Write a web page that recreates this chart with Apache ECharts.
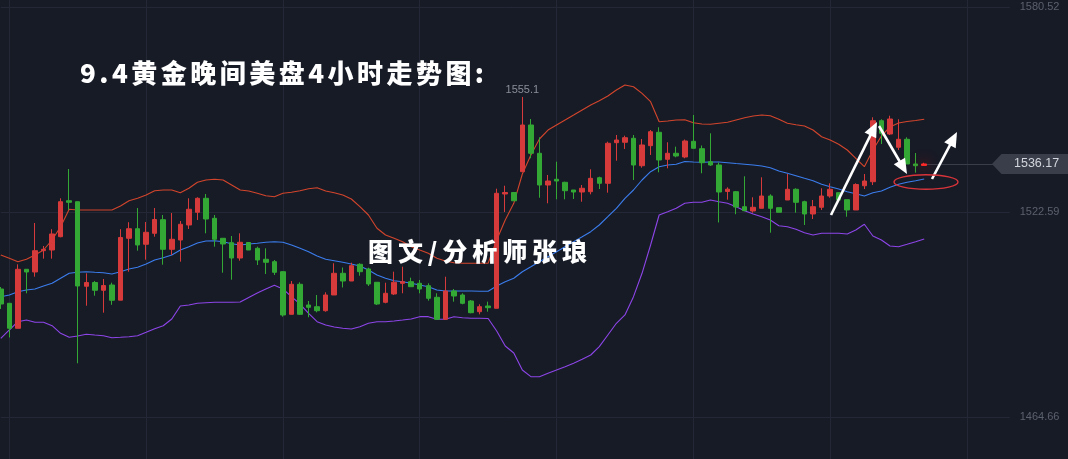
<!DOCTYPE html>
<html><head><meta charset="utf-8">
<script src="https://cdn.jsdelivr.net/npm/echarts@6/dist/echarts.min.js"></script>
<style>html,body{margin:0;padding:0;background:#171b26;overflow:hidden}#c{width:1068px;height:459px}</style>
</head><body><div id="c"></div>
<script>
// ---- data ----
const opens = [1500.83,1496.79,1489.73,1506.40,1505.64,1511.66,1511.85,1515.61,1525.78,1525.50,1501.60,1502.67,1500.47,1501.96,1497.67,1515.16,1517.87,1513.47,1516.57,1520.42,1512.05,1514.68,1518.92,1522.51,1526.46,1520.81,1515.16,1513.92,1509.59,1513.97,1512.33,1509.23,1508.55,1505.72,1493.68,1502.16,1496.31,1495.83,1494.70,1499.14,1505.27,1503.09,1507.81,1506.48,1502.73,1497.07,1499.42,1502.44,1502.90,1502.44,1501.77,1498.49,1492.27,1500.27,1499.14,1497.44,1494.42,1496.03,1495.38,1527.68,1528.10,1533.98,1547.18,1539.18,1530.22,1531.83,1530.98,1528.81,1528.24,1528.33,1532.28,1530.70,1542.18,1542.29,1543.42,1535.67,1541.33,1545.11,1537.48,1539.18,1538.13,1542.57,1540.48,1536.81,1535.87,1528.39,1528.33,1524.09,1522.87,1523.64,1527.11,1523.81,1525.98,1529.01,1525.50,1522.03,1523.92,1527.11,1528.05,1526.07,1523.16,1530.02,1531.15,1548.39,1544.63,1540.88,1543.14,1536.16,1535.75];
const closes = [1496.59,1489.73,1506.40,1505.64,1511.66,1512.05,1516.38,1525.50,1525.33,1501.68,1502.67,1500.47,1501.82,1497.64,1515.39,1517.87,1513.27,1516.85,1520.47,1512.05,1514.88,1519.12,1523.36,1526.46,1520.61,1514.88,1513.55,1509.59,1514.03,1511.85,1509.03,1508.38,1505.55,1493.49,1502.16,1493.68,1495.66,1494.70,1499.14,1505.27,1503.09,1507.42,1505.72,1502.25,1496.59,1499.62,1502.73,1502.90,1501.48,1500.83,1498.20,1492.27,1500.27,1498.85,1496.79,1494.14,1495.83,1495.55,1527.88,1528.10,1525.76,1547.18,1539.18,1530.22,1531.35,1531.35,1528.61,1528.24,1529.29,1532.11,1530.70,1542.01,1542.94,1543.59,1535.87,1541.53,1545.28,1537.29,1539.18,1538.42,1542.66,1540.59,1536.52,1535.87,1528.24,1529.04,1524.00,1522.96,1523.92,1527.11,1523.64,1522.51,1529.01,1525.33,1522.03,1524.09,1527.11,1529.01,1525.98,1523.16,1530.36,1531.35,1548.39,1544.83,1548.87,1543.14,1536.16,1535.67,1536.17];
const lows = [1495.18,1487.13,1489.73,1499.62,1504.31,1509.40,1509.40,1515.44,1523.16,1479.84,1496.11,1498.94,1494.14,1496.37,1497.67,1505.72,1511.66,1509.11,1515.61,1507.70,1510.44,1508.55,1517.79,1520.33,1516.57,1512.79,1505.44,1503.46,1508.83,1511.85,1507.61,1505.07,1504.79,1493.01,1493.68,1493.49,1492.84,1494.25,1494.42,1499.14,1501.26,1503.09,1504.59,1501.68,1496.31,1496.79,1499.14,1499.62,1501.48,1499.62,1497.53,1492.07,1492.07,1497.25,1496.51,1493.97,1493.68,1494.42,1495.38,1522.59,1525.76,1533.98,1537.77,1526.63,1525.05,1526.18,1526.18,1526.27,1525.50,1527.59,1529.09,1528.05,1537.09,1540.40,1531.63,1535.11,1538.70,1533.81,1534.94,1538.05,1537.77,1540.59,1533.53,1535.59,1519.63,1526.07,1521.97,1522.82,1522.39,1523.64,1516.74,1522.51,1525.98,1522.39,1518.92,1520.61,1523.16,1526.63,1525.98,1521.26,1523.16,1529.09,1530.22,1541.81,1544.35,1540.11,1536.16,1533.70,1535.60];
const highs = [1501.40,1496.88,1507.81,1506.48,1519.48,1512.98,1517.73,1526.46,1534.74,1525.50,1505.27,1503.09,1503.66,1502.61,1517.73,1519.71,1523.72,1519.77,1523.72,1521.74,1522.31,1520.05,1526.46,1526.75,1527.68,1521.74,1515.16,1515.81,1516.57,1513.97,1512.79,1512.33,1509.03,1505.92,1503.09,1502.73,1497.44,1499.14,1499.90,1508.10,1506.91,1508.27,1508.10,1506.85,1502.73,1502.61,1505.72,1507.13,1504.03,1503.38,1502.44,1499.62,1504.31,1500.83,1499.62,1497.72,1496.51,1497.25,1529.18,1530.02,1528.10,1555.10,1548.87,1543.70,1533.05,1536.81,1531.15,1528.81,1530.22,1534.66,1532.57,1542.46,1544.35,1544.15,1544.35,1543.22,1545.76,1546.53,1542.29,1541.05,1543.08,1550.00,1541.38,1544.83,1536.58,1529.57,1528.53,1532.68,1526.75,1532.40,1527.59,1523.81,1533.33,1529.29,1525.78,1525.98,1529.29,1530.70,1528.05,1526.07,1530.70,1533.33,1549.35,1548.79,1549.80,1548.79,1543.70,1539.26,1536.50];
const bollUpper = [1510.44,1509.51,1508.55,1509.23,1510.44,1511.85,1514.68,1518.44,1523.35,1523.16,1523.16,1523.16,1523.16,1523.16,1524.29,1525.79,1526.46,1527.40,1528.61,1528.81,1528.81,1528.05,1529.29,1530.98,1531.63,1531.83,1531.63,1530.22,1528.81,1528.53,1527.88,1527.20,1526.92,1527.88,1528.16,1528.61,1529.18,1529.46,1528.53,1528.05,1527.40,1526.27,1524.09,1521.74,1517.99,1516.09,1515.16,1514.20,1512.79,1511.85,1510.92,1509.51,1508.74,1508.26,1508.10,1508.10,1508.10,1508.10,1514.68,1520.33,1525.05,1533.33,1538.70,1543.22,1545.76,1547.18,1548.59,1550.00,1551.42,1552.83,1554.04,1555.37,1557.07,1558.48,1558.00,1556.13,1553.76,1548.11,1548.31,1548.59,1548.67,1547.83,1547.46,1547.37,1547.66,1547.94,1548.59,1549.24,1549.72,1550.00,1549.80,1548.79,1547.66,1547.26,1546.89,1545.76,1543.87,1542.94,1541.72,1540.11,1537.77,1535.39,1540.11,1544.07,1546.61,1547.74,1548.17,1548.45,1548.79];
const bollMid = [1498.66,1499.14,1500.07,1500.55,1500.83,1501.68,1502.44,1503.86,1505.27,1505.55,1505.72,1505.55,1505.44,1505.07,1505.72,1506.48,1506.96,1507.90,1509.03,1509.68,1510.44,1511.85,1512.79,1513.83,1514.40,1514.48,1514.20,1513.63,1513.27,1513.55,1513.75,1514.03,1514.20,1514.03,1513.27,1512.33,1511.37,1510.16,1509.23,1508.83,1508.38,1507.90,1507.33,1506.20,1504.79,1503.86,1503.18,1502.90,1502.44,1501.96,1501.48,1500.55,1500.27,1500.27,1500.27,1500.27,1500.18,1500.18,1501.68,1502.90,1503.86,1505.72,1507.13,1508.55,1509.96,1511.37,1512.79,1514.20,1515.61,1517.03,1518.92,1521.26,1523.64,1526.46,1528.81,1531.63,1533.98,1535.39,1535.87,1536.07,1536.86,1536.72,1536.64,1536.72,1536.72,1536.52,1536.30,1536.10,1535.87,1535.59,1535.11,1534.18,1533.53,1532.85,1532.11,1531.44,1530.42,1529.74,1529.09,1528.33,1527.76,1527.11,1528.05,1528.53,1529.57,1530.42,1530.98,1531.44,1531.92];
const bollLower = [1486.90,1489.25,1491.59,1492.07,1491.42,1491.42,1490.46,1488.31,1487.18,1487.55,1488.03,1487.83,1487.64,1487.07,1487.18,1487.35,1487.64,1488.60,1489.62,1490.46,1492.36,1496.03,1496.31,1496.79,1496.96,1497.07,1497.07,1497.07,1497.16,1498.43,1499.70,1500.83,1501.88,1500.83,1498.66,1496.59,1493.96,1491.59,1490.66,1490.10,1489.73,1489.53,1490.18,1491.14,1491.59,1491.59,1491.79,1492.07,1492.36,1493.01,1493.01,1492.27,1492.27,1493.01,1492.72,1492.55,1492.55,1492.50,1488.96,1484.73,1482.75,1477.94,1476.05,1476.05,1477.01,1477.94,1478.88,1479.84,1480.97,1482.18,1484.53,1487.83,1491.14,1493.49,1498.66,1505.27,1513.27,1521.74,1522.68,1523.64,1525.05,1525.33,1525.33,1525.98,1525.50,1525.05,1524.09,1522.96,1522.03,1521.26,1520.33,1518.72,1518.44,1517.70,1516.74,1516.09,1516.57,1516.57,1516.57,1516.38,1517.50,1519.12,1515.81,1514.68,1512.98,1512.79,1513.46,1514.20,1514.96];
const yTickLabels = [1580.52, 1522.59, 1464.66];
const vGridIdx = [1, 17, 33, 49, 65, 81, 97, 113];
const SLOTS = 119; // candle slots incl. empty space on the right
const categories = Array.from({length: SLOTS}, (_, i) => String(i));
const titleText = '9.4黄金晚间美盘4小时走势图:';
const authorText = '图文/分析师张琅';

// ---- chart ----
const chart = echarts.init(document.getElementById('c'), null, {renderer: 'canvas'});
const last = closes.length - 1;
const lastClose = closes[last];
const candleData = opens.map((o, i) => {
  const v = [o, closes[i], lows[i], highs[i]];
  if (i === last) return {value: v, itemStyle: {shadowBlur: 14, shadowColor: 'rgba(255,20,20,0.95)', color: '#ff2a2a', borderColor: '#ff2a2a'}};
  return v;
});
const GRIDC = '#242836';
const lineS = (data, color) => ({type: 'line', data, symbol: 'none', silent: true, z: 2,
  lineStyle: {color, width: 1.1}});

chart.setOption({
  backgroundColor: '#171b26',
  animation: false,
  grid: {left: 0.78, right: 58.3, top: 0, bottom: 0},
  xAxis: {type: 'category', data: categories, boundaryGap: false,
    axisLine: {show: false}, axisTick: {show: false}, axisLabel: {show: false}, splitLine: {show: false}},
  yAxis: {type: 'value', position: 'right', min: 1452.79, max: 1582.50,
    axisLine: {show: false}, axisTick: {show: false}, splitLine: {show: false},
    axisLabel: {customValues: yTickLabels, color: '#5b606e', fontSize: 11, fontFamily: 'Liberation Sans', margin: 10,
      padding: [6, 0, 0, 0], formatter: v => v.toFixed(2)}},
  series: [
    {type: 'line', data: [], silent: true,
      markLine: {silent: true, z: 1, symbol: 'none', label: {show: false},
        lineStyle: {color: GRIDC, width: 1, type: 'solid'},
        data: vGridIdx.map(i => ({xAxis: categories[i]})).concat(yTickLabels.map(v => ({yAxis: v})))}},
    lineS(bollUpper, '#d2452c'),
    lineS(bollMid, '#3b7ded'),
    lineS(bollLower, '#8d45e8'),
    {type: 'candlestick', data: candleData, barWidth: 5, z: 3,
      itemStyle: {color: '#d63a3a', color0: '#33a835', borderColor: '#d63a3a', borderColor0: '#33a835', borderWidth: 1},
      markLine: {silent: true, z: 1, symbol: 'none', label: {show: false},
        lineStyle: {color: '#3a3e4b', width: 1, type: 'solid'},
        data: [[{coord: [categories[last], lastClose]}, {coord: [categories[SLOTS - 1], lastClose]}]]},
      markPoint: {symbol: 'circle', symbolSize: 0.1, z: 6,
        data: [{type: 'max', valueDim: 'highest', name: 'max'}],
        label: {show: true, position: 'top', distance: 1, color: '#8a8e99', fontSize: 11, fontFamily: 'Liberation Sans',
          formatter: p => String(p.value)}}}
  ]
});

// ---- overlays ----
const mctx = document.createElement('canvas').getContext('2d');
function spacedText(str, x0, targetW, yMid, size) {
  const font = '900 ' + size + 'px "Noto Sans CJK SC"';
  mctx.font = font;
  const chars = Array.from(str);
  const ws = chars.map(c => mctx.measureText(c).width);
  const total = ws.reduce((a, b) => a + b, 0);
  const gap = (targetW - total) / (chars.length - 1);
  let x = x0;
  return chars.map((c, i) => {
    const el = {type: 'text', x: x, y: yMid, z: 100, silent: true,
      style: {text: c, font: font, fill: '#ffffff', textVerticalAlign: 'middle', textAlign: 'left',
        shadowColor: 'rgba(0,0,0,0.95)', shadowBlur: 1, shadowOffsetX: -1.5, shadowOffsetY: 1.5}};
    x += ws[i] + gap;
    return el;
  });
}
function arrow(x1, y1, x2, y2) {
  const dx = x2 - x1, dy = y2 - y1, L = Math.hypot(dx, dy), ux = dx / L, uy = dy / L;
  const hl = 15, hw = 6.5;
  const bx = x2 - ux * hl, by = y2 - uy * hl;
  return [
    {type: 'line', z: 100, silent: true, shape: {x1, y1, x2: bx + ux * 2, y2: by + uy * 2},
      style: {stroke: '#ffffff', lineWidth: 2.6}},
    {type: 'polygon', z: 100, silent: true,
      shape: {points: [[x2, y2], [bx - uy * hw, by + ux * hw], [bx + uy * hw, by - ux * hw]]},
      style: {fill: '#ffffff'}}
  ];
}
const yTag = chart.convertToPixel({yAxisIndex: 0}, lastClose);
const graphics = []
  .concat(spacedText(titleText, 80, 404, 73, 26))
  .concat(spacedText(authorText, 368, 219, 251, 25))
  .concat(arrow(831, 215, 877, 122))
  .concat(arrow(879, 126, 907, 174))
  .concat(arrow(932, 179, 957, 132))
  .concat([
    {type: 'ellipse', z: 100, silent: true, shape: {cx: 926, cy: 182, rx: 32, ry: 7.2},
      style: {fill: 'none', stroke: '#d8343a', lineWidth: 1.4}},
    {type: 'polygon', z: 100, silent: true,
      shape: {points: [[992, yTag], [1001.5, yTag - 10], [1068, yTag - 10], [1068, yTag + 10], [1001.5, yTag + 10]]},
      style: {fill: '#3a3e4a'}},
    {type: 'text', z: 101, silent: true, x: 1014, y: yTag,
      style: {text: lastClose.toFixed(2), font: '12.5px "Liberation Sans"', fill: '#d3d6dc', textVerticalAlign: 'middle'}}
  ]);
chart.setOption({graphic: graphics});
</script>
</body></html>
